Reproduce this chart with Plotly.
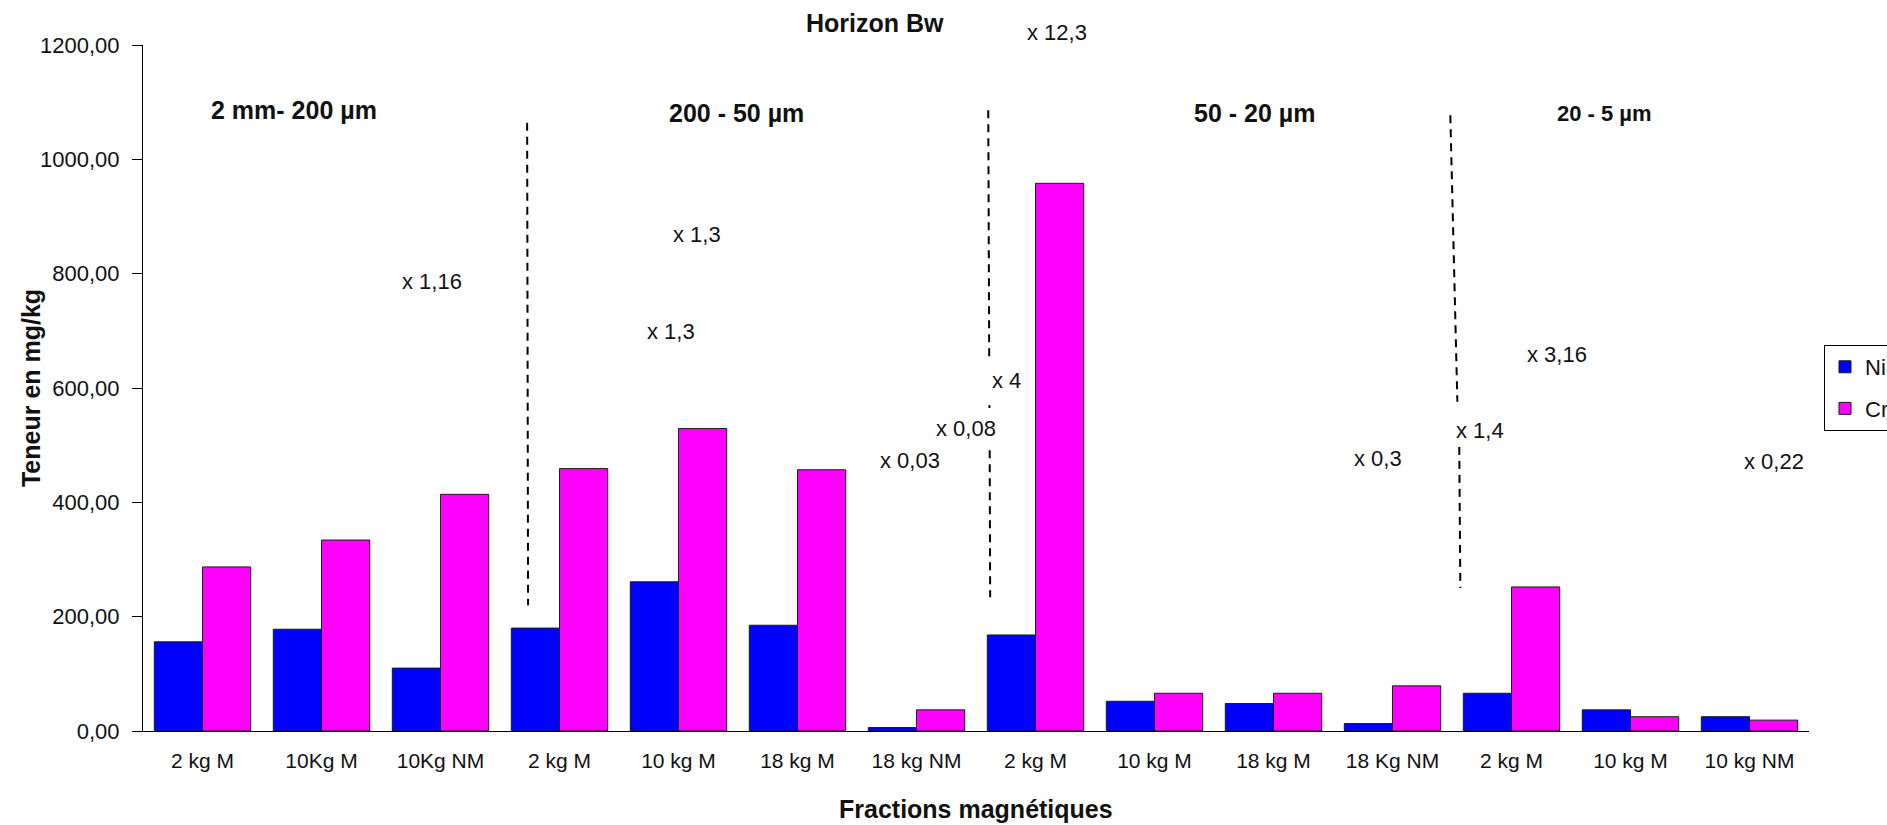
import plotly.graph_objects as go

# Magnetic fractions, grouped by grain-size class
categories = ["2 kg M", "10Kg M", "10Kg NM",
              "2 kg M", "10 kg M", "18 kg M", "18 kg NM",
              "2 kg M", "10 kg M", "18 kg M", "18 Kg NM",
              "2 kg M", "10 kg M", "10 kg NM"]
ni_values = [156, 178, 110, 180, 261, 185, 6, 168, 52, 48, 13, 66, 37, 25]
cr_values = [287, 334, 414, 459, 529, 457, 37, 958, 66, 66, 79, 252, 25, 19]

size_classes = ["2 mm- 200 µm", "200 - 50 µm", "50 - 20 µm", "20 - 5 µm"]
factor_labels = ["x 1,16", "x 1,3", "x 1,3", "x 12,3", "x 4", "x 0,08",
                 "x 0,03", "x 0,3", "x 1,4", "x 3,16", "x 0,22"]
y_ticks = [0, 200, 400, 600, 800, 1000, 1200]

FONT = "Liberation Sans, Arial, sans-serif"
INK = "#111111"

positions = list(range(len(categories)))

fig = go.Figure()
fig.add_trace(go.Bar(x=positions, y=ni_values, name="Ni", legendgroup="ni",
                     marker=dict(color="#0000FF", line=dict(color="#1a1a1a", width=1))))
fig.add_trace(go.Bar(x=positions, y=cr_values, name="Cr", legendgroup="cr",
                     marker=dict(color="#FF00FF", line=dict(color="#1a1a1a", width=1))))

# Placement of the ratio labels: x in category units, y in mg/kg
# (labels above the axis top use paper height instead)
factor_pos = [(1.930, 786, "y"), (4.157, 868, "y"), (3.939, 698, "y"),
              (7.183, 1.0175, "paper"), (6.754, 614, "y"), (6.418, 530, "y"),
              (5.947, 474, "y"), (9.881, 477, "y"), (10.738, 526, "y"),
              (11.385, 658, "y"), (13.209, 471, "y")]
class_pos = [(0.770, 1086, 25), (4.485, 1081, 25), (8.839, 1081, 25), (11.780, 1081, 22)]

annotations = []
for txt, (x, y, yr) in zip(factor_labels, factor_pos):
    annotations.append(dict(x=x, y=y, xref="x", yref=yr, text=txt, showarrow=False,
                            xanchor="center", yanchor="middle",
                            font=dict(family=FONT, size=22, color=INK)))
for txt, (x, y, s) in zip(size_classes, class_pos):
    annotations.append(dict(x=x, y=y, xref="x", yref="y", text="<b>%s</b>" % txt,
                            showarrow=False, xanchor="center", yanchor="middle",
                            font=dict(family=FONT, size=s, color=INK)))
annotations.append(dict(x=5.653, y=1.032, xref="x", yref="paper", text="<b>Horizon Bw</b>",
                        showarrow=False, xanchor="center", yanchor="middle",
                        font=dict(family=FONT, size=25, color=INK)))
annotations.append(dict(x=0.5, y=0, xref="paper", yref="paper", yshift=-78,
                        xanchor="center", yanchor="middle",
                        text="<b>Fractions magnétiques</b>", showarrow=False,
                        font=dict(family=FONT, size=25, color=INK)))
annotations.append(dict(x=-0.0672, y=0.5, xref="paper", yref="paper", textangle=-90,
                        xanchor="center", yanchor="middle",
                        text="<b>Teneur en mg/kg</b>", showarrow=False,
                        font=dict(family=FONT, size=25, color=INK)))

# Dashed separators between size classes
separators = [
    (2.728, 1064, 2.736, 220),
    (6.603, 1086, 6.611, 652),
    (6.613, 570, 6.613, 565),
    (6.615, 491, 6.619, 234),
    (10.486, 1077, 10.545, 576),
    (10.561, 497, 10.570, 250),
]
shapes = [dict(type="line", xref="x", yref="y", x0=a, y0=b, x1=c, y1=d,
               line=dict(color="#000000", width=2, dash="8px,6px"))
          for a, b, c, d in separators]

boundaries = [i + 0.5 for i in range(len(categories))]

fig.update_layout(
    width=1887, height=825,
    margin=dict(l=143, r=78, t=45, b=94, autoexpand=False),
    paper_bgcolor="white", plot_bgcolor="white",
    separators=",.",
    barmode="group", bargap=0.19, bargroupgap=0,
    font=dict(family=FONT, size=21, color=INK),
    showlegend=True,
    legend=dict(x=1.009, y=0.5627, xanchor="left", yanchor="top",
                bordercolor="#000000", borderwidth=1, bgcolor="white",
                font=dict(family=FONT, size=22, color=INK),
                traceorder="grouped", tracegroupgap=10),
    xaxis=dict(range=[-0.5, len(categories) - 0.5], tickvals=positions, ticktext=categories,
               ticks="", showgrid=False, zeroline=False, showline=True,
               linecolor="#000000", linewidth=1, ticklabelstandoff=11,
               tickfont=dict(family=FONT, size=21, color=INK)),
    xaxis2=dict(overlaying="x", anchor="y", range=[-0.5, len(categories) - 0.5],
                tickvals=boundaries, ticks="outside", ticklen=6, tickcolor="#000000",
                showticklabels=False, showgrid=False, zeroline=False, showline=False),
    xaxis3=dict(overlaying="x", anchor="y", range=[-0.5, len(categories) - 0.5],
                tickvals=boundaries, ticks="inside", ticklen=6, tickcolor="#000000",
                showticklabels=False, showgrid=False, zeroline=False, showline=False),
    yaxis=dict(range=[0, 1200], tickvals=y_ticks, tickformat=".2f", ticks="outside",
               ticklen=10, tickcolor="#000000", showgrid=False, zeroline=False,
               showline=True, linecolor="#000000", linewidth=1, ticklabelstandoff=8,
               tickfont=dict(family=FONT, size=22, color=INK)),
    annotations=annotations,
    shapes=shapes,
)

fig.write_html("out.html")
